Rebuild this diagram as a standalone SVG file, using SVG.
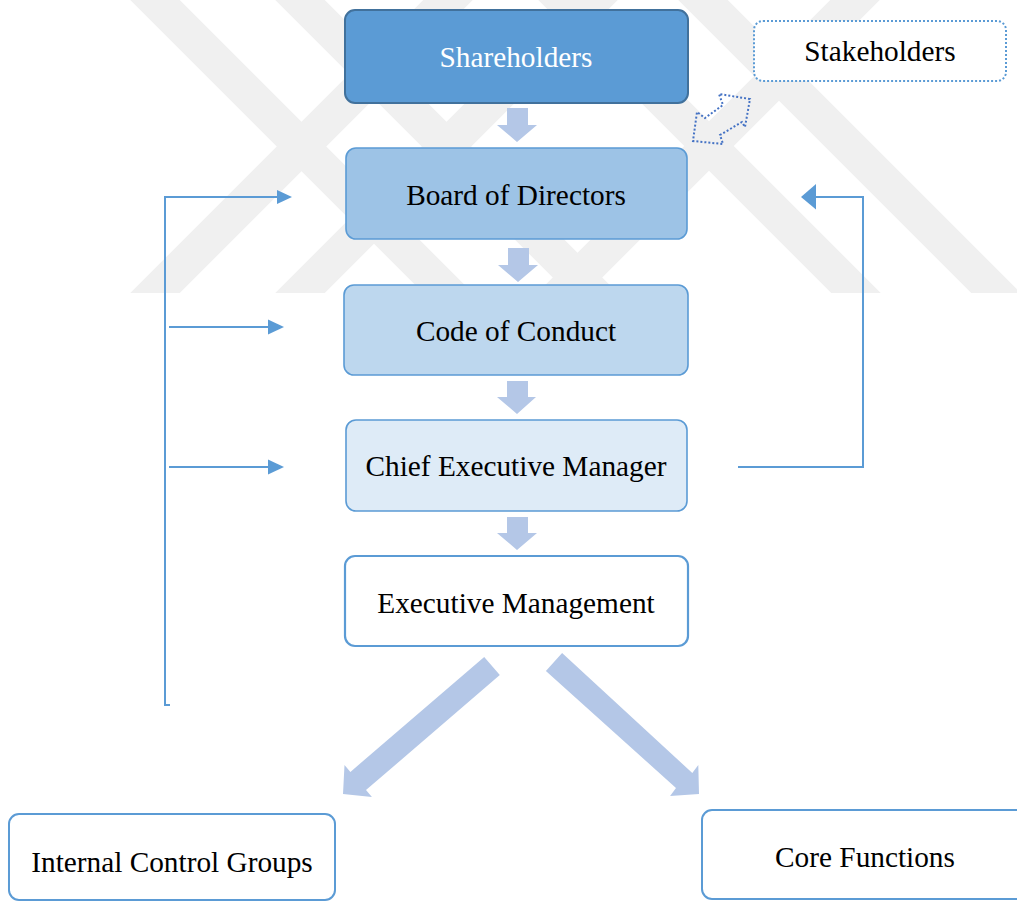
<svg xmlns="http://www.w3.org/2000/svg" width="1017" height="902" viewBox="0 0 1017 902">
  <defs>
    <style>
      .band { stroke: #f0f0f0; stroke-width: 35; fill: none; }
      .box { stroke: #5b9bd5; stroke-width: 1.6; }
      .label { font-family: "Liberation Serif", "Times New Roman", serif; font-size: 29.3px; fill: #000; text-anchor: middle; }
      .link { stroke: #5b9bd5; stroke-width: 2; fill: none; }
      .head { fill: #5b9bd5; }
      .block { fill: #b4c7e7; }
    </style>
    <clipPath id="bandClip">
      <rect x="0" y="0" width="1017" height="293"/>
    </clipPath>
  </defs>

  <rect x="0" y="0" width="1017" height="902" fill="#ffffff"/>

  <!-- faint diagonal background emblem -->
  <g id="emblem" clip-path="url(#bandClip)">
    <line class="band" x1="135" y1="-20" x2="468" y2="313"/>
    <line class="band" x1="280" y1="-20" x2="613" y2="313"/>
    <line class="band" x1="543" y1="-20" x2="876" y2="313"/>
    <line class="band" x1="683" y1="-20" x2="1016" y2="313"/>
    <line class="band" x1="468" y1="-20" x2="135" y2="313"/>
    <line class="band" x1="613" y1="-20" x2="280" y2="313"/>
    <line class="band" x1="875" y1="-20" x2="542" y2="313"/>
  </g>

  <!-- connectors -->
  <g id="connectors">
    <!-- block arrows down the chain -->
    <polygon class="block" points="507,108 528,108 528,125 537,125 517,142 497,125 507,125"/>
    <polygon class="block" points="508,248 529,248 529,265 538,265 518,282 498,265 508,265"/>
    <polygon class="block" points="507,381 528,381 528,397 536,397 517,414 497,397 507,397"/>
    <polygon class="block" points="507,517 528,517 528,533 537,533 517,550 497,533 507,533"/>
    <!-- diagonal block arrows to the two lower groups -->
    <polygon class="block" points="484.2,656.9 499.8,675.1 366,790.1 371.9,796.9 343,794 344.5,765.1 350.4,771.9"/>
    <polygon class="block" points="562.1,653.1 545.9,670.9 676,788 670.1,796 699,794 698.3,765 692.3,773"/>

    <!-- stakeholder exchange arrow -->
    <polygon points="750,99 719,94 723,105 705,118 697,112 693,141 723,144 720,135 742,122 745,127"
             fill="none" stroke="#4472c4" stroke-width="2" stroke-dasharray="2 2"/>

    <!-- left feedback loop -->
    <polyline class="link" points="170,705 165,705 165,197 278,197"/>
    <polygon class="head" points="277,190 292,197 277,204"/>
    <line class="link" x1="169" y1="327" x2="269" y2="327"/>
    <polygon class="head" points="268,319.5 284,327 268,334.5"/>
    <line class="link" x1="169" y1="467" x2="269" y2="467"/>
    <polygon class="head" points="268,459.5 284,467 268,474.5"/>

    <!-- right feedback loop -->
    <polyline class="link" points="738,467 863,467 863,197 815,197"/>
    <polygon class="head" points="816,184 801,197 816,209.5"/>
  </g>

  <g id="shareholders">
    <rect x="345" y="10" width="343" height="93" rx="10" fill="#5b9bd5" stroke="#41719c" stroke-width="2"/>
    <text class="label" x="516" y="67" style="fill:#ffffff">Shareholders</text>
  </g>

  <g id="stakeholders">
    <rect x="754" y="21" width="252" height="60" rx="9" fill="#ffffff" stroke="#5b9bd5" stroke-width="2" stroke-dasharray="2 2"/>
    <text class="label" x="880" y="61">Stakeholders</text>
  </g>

  <g id="board">
    <rect class="box" x="346" y="148" width="341" height="91" rx="10" fill="#9dc3e6"/>
    <text class="label" x="516" y="205">Board of Directors</text>
  </g>

  <g id="code">
    <rect class="box" x="344" y="285" width="344" height="90" rx="10" fill="#bdd7ee"/>
    <text class="label" x="516" y="341">Code of Conduct</text>
  </g>

  <g id="ceo">
    <rect class="box" x="346" y="420" width="341" height="91" rx="10" fill="#deebf7"/>
    <text class="label" x="516" y="476">Chief Executive Manager</text>
  </g>

  <g id="executive">
    <rect x="345" y="556" width="343" height="90" rx="10" fill="#ffffff" stroke="#5b9bd5" stroke-width="2.2"/>
    <text class="label" x="516" y="613">Executive Management</text>
  </g>

  <g id="internal-control">
    <rect x="9" y="814" width="326" height="86" rx="10" fill="#ffffff" stroke="#5b9bd5" stroke-width="2"/>
    <text class="label" x="172" y="872">Internal Control Groups</text>
  </g>

  <g id="core-functions">
    <rect x="702" y="810" width="330" height="89" rx="10" fill="#ffffff" stroke="#5b9bd5" stroke-width="2"/>
    <text class="label" x="865" y="867">Core Functions</text>
  </g>
</svg>
